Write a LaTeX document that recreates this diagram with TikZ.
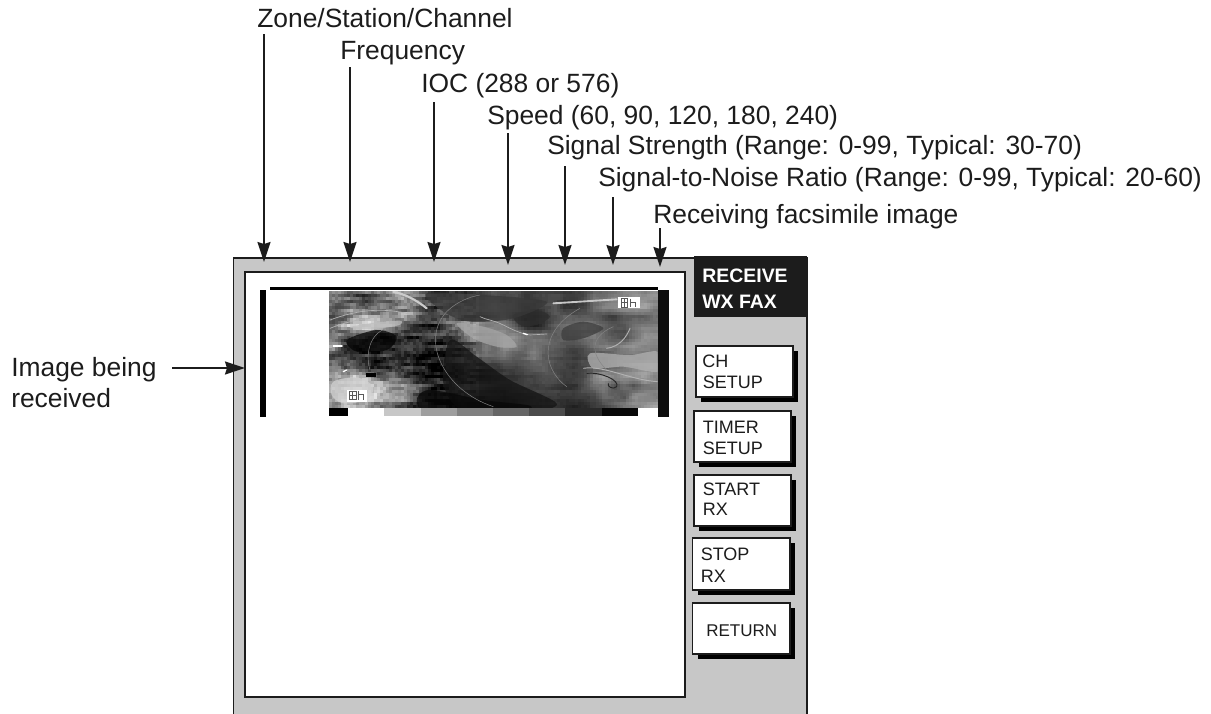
\documentclass[tikz,border=0pt]{standalone}
\usepackage{fontspec}
\setmainfont{Liberation Sans}
\usetikzlibrary{arrows.meta}
\definecolor{panelgray}{gray}{0.78}
\definecolor{inkdark}{gray}{0.11}
\newcount\imSeed \imSeed=417
\newcount\imN
\newcount\imT \newcount\imU \newcount\imQx \newcount\imQy \newcount\imFx \newcount\imFy \newcount\imV
\tikzset{
 lab/.style={anchor=base west,inner sep=0pt,text=inkdark,font=\fontsize{19.8}{24}\selectfont},
 ptr/.style={draw=inkdark,line width=1.5pt,-{Stealth[length=15pt,width=9.75pt,inset=1.5pt,fill=inkdark]}},
 softkey/.style={draw=inkdark,line width=0.8pt,fill=white},
 keyshadow/.style={fill=black},
 keytext/.style={anchor=base west,inner sep=0pt,text=inkdark,font=\fontsize{13.5}{15}\selectfont},
 headtext/.style={anchor=base west,inner sep=0pt,text=white,font=\bfseries\fontsize{14.6}{18}\selectfont},
 faint/.style={draw=black!48,line width=0.35pt},
 bright/.style={draw=black!30,line width=0.5pt,line cap=round},
 patch/.style={fill=black!#1,fill opacity=0.75,draw=none}
}
\begin{document}
\begin{tikzpicture}[x=0.75pt,y=-0.75pt]
\useasboundingbox (0,0) rectangle (1211,714);
% panel
\fill[panelgray] (233.5,258) rectangle (807,714);
\draw[inkdark,line width=1.1pt] (233.5,714) -- (233.5,258) -- (807,258) -- (807,714);
\fill[white] (245,272) rectangle (685,697);
\draw[inkdark,line width=0.9pt] (245,272) rectangle (685,697);
\fill[inkdark] (694,256) rectangle (807,317);
\node[headtext] (h1) at (702,282) {RECEIVE};
\node[headtext] (h2) at (702,308) {WX FAX};
% grey matrix of the facsimile image
\foreach \imrw [count=\imr from 0] in {
{55,60,65,70,65,55,42,40,50,60,70,70,72,72,70,65,60,65,60,70,68,65,65,70,70,65,50,50,45,40,35,40,35},
{60,50,60,65,50,50,55,55,55,65,70,60,70,70,72,60,50,58,60,70,70,65,60,75,75,70,50,40,35,30,30,25,40},
{65,60,35,25,45,50,55,30,50,75,80,65,55,70,70,65,60,55,70,80,82,72,60,55,60,60,60,65,70,60,55,55,50},
{55,30,20,15,25,30,30,55,80,85,85,75,60,45,42,42,42,45,55,75,78,70,58,50,45,40,45,55,60,60,50,45,45},
{65,70,60,55,80,90,85,75,80,85,85,80,75,55,45,45,45,35,35,45,50,50,58,55,55,45,45,55,60,65,50,35,35},
{40,80,95,95,95,90,85,80,85,85,85,85,80,70,55,40,50,35,40,50,45,50,55,60,65,60,50,45,45,40,35,40,45},
{70,70,80,85,85,80,80,80,85,90,90,85,80,70,65,50,55,50,60,55,45,60,60,65,70,65,60,60,55,50,50,50,48},
{50,65,60,70,80,85,85,80,85,90,90,85,80,75,70,70,70,65,65,60,55,55,62,65,70,65,60,60,50,45,40,35,35},
{45,40,25,30,45,65,50,70,75,85,90,85,85,80,75,75,75,70,70,65,65,60,62,70,70,65,40,30,40,35,35,30,40},
{40,30,25,20,25,35,45,30,55,70,85,88,85,80,78,75,75,75,72,70,68,65,68,72,72,60,50,45,60,50,60,45,45},
{35,15,10,15,15,30,40,35,65,80,90,92,90,85,85,80,80,82,78,75,72,70,70,72,72,70,65,50,55,60,35,40,45},
{50,35,30,35,50,60,70,75,88,90,95,95,95,95,95,95,90,92,90,85,78,72,72,78,80,78,70,65,55,45,40,35,25}}{
 \foreach \imvv [count=\imc from 0] in \imrw {\expandafter\xdef\csname im@\imr @\imc\endcsname{\imvv}}
}
\foreach \py in {0,...,38}{
 \global\imN=0
 \foreach \px in {0,...,109}{
  \imQx=\numexpr 3*\px-4\relax \ifnum\imQx<0 \imQx=0 \fi
  \imFx=\imQx \divide\imQx by 10
  \imFx=\numexpr\imFx-10*\imQx\relax
  \ifnum\imQx>31 \imQx=31 \imFx=10 \fi
  \imQy=\numexpr 3*\py-4\relax \ifnum\imQy<0 \imQy=0 \fi
  \imFy=\imQy \divide\imQy by 10
  \imFy=\numexpr\imFy-10*\imQy\relax
  \ifnum\imQy>10 \imQy=10 \imFy=10 \fi
  \imV=\numexpr ((10-\imFx)*(10-\imFy)*\csname im@\the\imQy @\the\imQx\endcsname
    +\imFx*(10-\imFy)*\csname im@\the\imQy @\the\numexpr\imQx+1\relax\endcsname
    +(10-\imFx)*\imFy*\csname im@\the\numexpr\imQy+1\relax @\the\imQx\endcsname
    +\imFx*\imFy*\csname im@\the\numexpr\imQy+1\relax @\the\numexpr\imQx+1\relax\endcsname)/100\relax
  \imT=\numexpr \imSeed*1103+12345\relax
  \imU=\imT \divide\imU by 65536 \multiply\imU by 65536
  \advance\imT by -\imU
  \global\imSeed=\imT
  \imU=\numexpr \imT/1639-20\relax
  \ifnum\px<50 \multiply\imU by 2 \else \imU=\numexpr\imU/3\relax \advance\imV by 7 \fi
  \global\imN=\numexpr (3*\imN+\imU)/4\relax
  \advance\imV by \imN
  \ifnum\imV<0 \imV=0 \fi
  \ifnum\imV>100 \imV=100 \fi
  \fill[black!\the\imV] (\the\numexpr 329+3*\px\relax,\the\numexpr 291+3*\py\relax) rectangle +(3.4,3.4);
 }
}
% bars, marks and fine lines in the coordinates of a 3x enlargement
\begin{scope}[shift={(230,240)},x=0.25pt,y=-0.25pt]
\fill[black] (90,150) rectangle (108,530);
\fill[black] (120,141) rectangle (1283,150);
\fill[black!95] (1285,150) rectangle (1317,530);
\begin{scope}
\clip (296,153) rectangle (1283,503);
% regions with sharper edges
\fill[patch=82] plot[smooth cycle] coordinates {(850,225) (920,210) (960,230) (920,255) (870,255)};
\fill[patch=76] plot[smooth cycle] coordinates {(1000,265) (1060,245) (1120,265) (1060,295) (1000,300)};
\fill[patch=78] plot[smooth cycle] coordinates {(590,160) (760,165) (950,185) (850,235) (720,245) (640,215)};
\fill[patch=35] plot[smooth cycle] coordinates {(680,250) (760,260) (830,285) (860,320) (800,320) (730,295)};
\fill[patch=92] plot[smooth cycle] coordinates {(660,300) (740,350) (840,420) (980,490) (900,515) (700,510) (640,430)};
\fill[patch=97] plot[smooth cycle] coordinates {(600,450) (760,480) (900,497) (860,515) (600,515) (560,480)};
\fill[patch=98] plot[smooth cycle] coordinates {(350,300) (440,270) (500,290) (470,330) (380,335)};
\fill[patch=25] plot[smooth cycle] coordinates {(360,262) (420,250) (510,242) (505,256) (420,268)};
\fill[patch=18] plot[smooth cycle] coordinates {(310,425) (380,412) (430,440) (410,480) (340,490) (305,465)};
\fill[patch=30] plot[smooth cycle] coordinates {(1080,340) (1200,345) (1283,335) (1283,395) (1180,380) (1090,385)};
\draw[faint] (790,500) .. controls (640,450) and (570,300) .. (650,215) .. controls (680,185) and (720,170) .. (750,165);
\draw[faint] (420,390) .. controls (405,340) and (420,280) .. (470,265);
\draw[faint] (1010,440) .. controls (930,380) and (930,270) .. (1050,205);
\draw[faint] (1130,390) .. controls (1080,340) and (1080,290) .. (1150,260);
\draw[bright] (750,230) .. controls (770,240) and (790,240) .. (820,255) .. controls (850,270) and (870,280) .. (900,285) -- (950,282);
\draw[bright,draw=black!22,line width=1.4pt] (970,190) -- (1160,178);
\draw[bright,draw=white,line width=1pt] (880,280) -- (892,284);
\draw[bright,line width=0.7pt] (1130,325) .. controls (1170,320) and (1190,290) .. (1200,265);
\draw[bright] (300,240) .. controls (380,210) and (460,200) .. (550,225);
\draw[bright] (300,265) .. controls (350,245) and (380,240) .. (420,235);
\draw[bright,draw=white,line width=1.2pt] (310,318) -- (336,318);
\draw[bright,draw=white,line width=1pt] (340,395) -- (350,390);
\draw[bright,draw=black!20,line width=1.6pt] (490,156) .. controls (520,160) and (560,180) .. (590,205);
\draw[black!85,line width=0.7pt] (1070,400) .. controls (1110,395) and (1170,420) .. (1160,440) .. controls (1150,450) and (1130,440) .. (1135,430);
\draw[black!30,line width=0.7pt] (1060,385) .. controls (1120,375) and (1200,420) .. (1283,425);
\fill[black] (408,398) rectangle (438,410);
\end{scope}
% white marks
\fill[white] (1165,172) rectangle (1230,205);
\fill[white] (350,450) rectangle (412,487);
\foreach \mx/\my in {1165/172,350/450}{
 \draw[black!65,line width=0.55pt] (\mx+8,\my+4) rectangle (\mx+28,\my+29);
 \draw[black!65,line width=0.55pt] (\mx+18,\my+4) -- (\mx+18,\my+29);
 \draw[black!65,line width=0.55pt] (\mx+8,\my+16) -- (\mx+28,\my+16);
 \draw[black!65,line width=0.55pt] (\mx+36,\my+4) -- (\mx+36,\my+29);
 \draw[black!65,line width=0.55pt] (\mx+36,\my+14) -- (\mx+50,\my+14) -- (\mx+50,\my+29);
}
% grey scale strip
\fill[black] (296,503) rectangle (353,527);
\fill[black!22] (463,503) rectangle (572,527);
\fill[black!38] (572,503) rectangle (680,527);
\fill[black!50] (680,503) rectangle (790,527);
\fill[black!60] (790,503) rectangle (897,527);
\fill[black!70] (897,503) rectangle (1005,527);
\fill[black!84] (1005,503) rectangle (1115,527);
\fill[black!97] (1115,503) rectangle (1225,527);
\end{scope}
% soft keys
\foreach \kx/\ky/\kxx/\kyy in {696/346/793/397,694/411/791/462,694/475/791/526,692.5/538/790/590,692.5/603/790/654}{
 \fill[keyshadow] (\kx+5,\ky+5) rectangle (\kxx+5,\kyy+5);
 \draw[softkey] (\kx,\ky) rectangle (\kxx,\kyy);
}
\node[keytext] (k1a) at (702,367) {CH};
\node[keytext] (k1b) at (702.5,388) {SETUP};
\node[keytext] (k2a) at (702.5,433) {TIMER};
\node[keytext] (k2b) at (702.5,454) {SETUP};
\node[keytext] (k3a) at (702.5,495) {START};
\node[keytext] (k3b) at (702.5,515) {RX};
\node[keytext] (k4a) at (700.5,560) {STOP};
\node[keytext] (k4b) at (700.5,582) {RX};
\node[keytext,font=\fontsize{12.75}{15}\selectfont] (k5) at (706,636) {RETURN};
% labels
\node[lab] (l1) at (257,27) {Zone/Station/Channel};
\node[lab] (l2) at (340,59) {Frequency};
\node[lab] (l3) at (421,92) {IOC (288 or 576)};
\node[lab] (l4) at (487,124) {Speed (60, 90, 120, 180, 240)};
\node[lab] (l5) at (547,154) {Signal Strength (Range: 0-99, Typical: 30-70)};
\node[lab] (l6) at (598,186) {Signal-to-Noise Ratio (Range: 0-99, Typical: 20-60)};
\node[lab] (l7) at (653,223) {Receiving facsimile image};
\node[lab] (l8) at (11,376) {Image being};
\node[lab] (l9) at (11,407) {received};
% arrows
\foreach \n/\x/\y/\e in {1/264/34/262,2/350/67/262,3/434/102/262,4/508/133/265,5/565/166/265,6/613/197/265,7/660/228/267}{
 \coordinate (s\n) at (\x,\y);
 \coordinate (t\n) at (\x,\e);
 \draw[ptr] (s\n) -- (t\n);
}
\coordinate (s8) at (172,368);
\coordinate (t8) at (245,368);
\draw[ptr] (s8) -- (t8);
\end{tikzpicture}
\end{document}
